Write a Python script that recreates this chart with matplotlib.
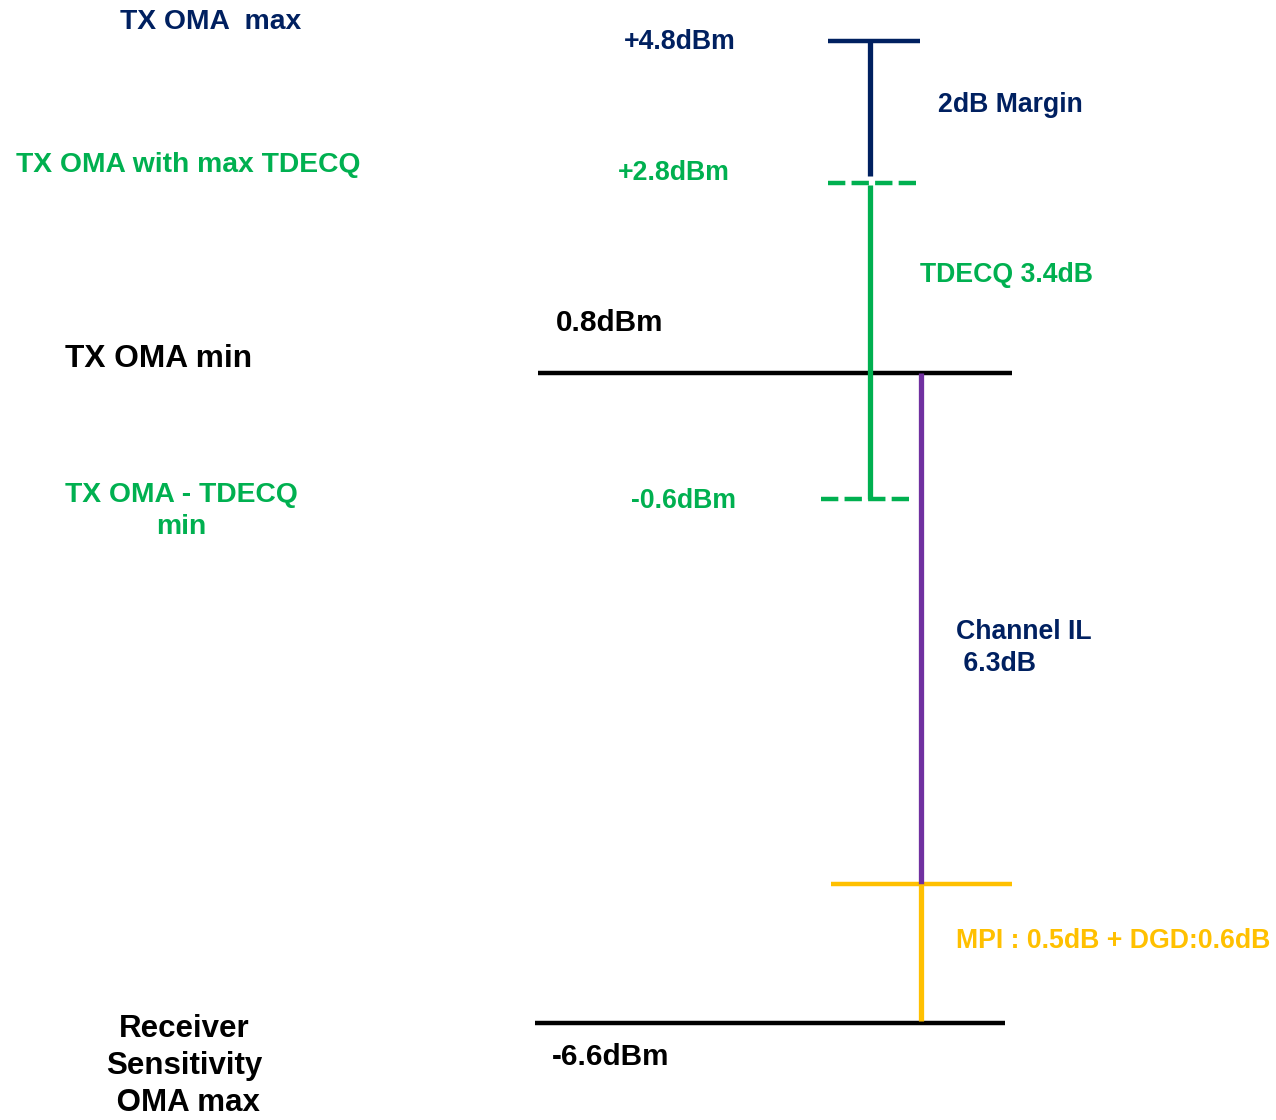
import matplotlib
matplotlib.use('Agg')
import matplotlib.pyplot as plt

plt.rcParams['font.family'] = ['Liberation Sans', 'DejaVu Sans']
plt.rcParams['font.weight'] = 'bold'

NAVY = '#002060'
GREEN = '#00B050'
PURPLE = '#7030A0'
GOLD = '#FFC000'

# power levels (dBm) and where they sit on the (not to scale) diagram
level_names = ['TX OMA  max', 'TX OMA with max TDECQ', 'TX OMA min',
               'TX OMA - TDECQ\nmin', 'Receiver\nSensitivity\n OMA max']
level_values = ['+4.8dBm', '+2.8dBm', '0.8dBm', '-0.6dBm', '-6.6dBm']
level_colors = [NAVY, GREEN, 'black', GREEN, 'black']
level_rows = [41, 183, 373, 499, 1023]
mpi_row = 884

# budget segments
seg_labels = ['2dB Margin', 'TDECQ 3.4dB', 'Channel IL\n 6.3dB',
              'MPI : 0.5dB + DGD:0.6dB']
seg_colors = [NAVY, GREEN, NAVY, GOLD]

fig = plt.figure(figsize=(12.76, 11.2), dpi=100)
ax = fig.add_axes([0, 0, 1, 1])
ax.set_xlim(0, 1276)
ax.set_ylim(1120, 0)
ax.axis('off')

r_max, r_tdecq, r_min, r_low, r_sens = level_rows

# horizontal level bars
ax.plot([828, 920], [r_max, r_max], color=NAVY, lw=3.2, solid_capstyle='butt')
ax.plot([828, 918], [r_tdecq, r_tdecq], color=GREEN, lw=3.2,
        linestyle=(0, (3.9, 1.4)), dash_capstyle='butt')
ax.plot([538, 1012], [r_min, r_min], color='black', lw=3.2, solid_capstyle='butt')
ax.plot([821, 913], [r_low, r_low], color=GREEN, lw=3.2,
        linestyle=(0, (3.9, 1.4)), dash_capstyle='butt')
ax.plot([831, 1012], [mpi_row, mpi_row], color=GOLD, lw=3.2, solid_capstyle='butt')
ax.plot([535, 1005], [r_sens, r_sens], color='black', lw=3.2, solid_capstyle='butt')

# vertical budget segments
ax.plot([870, 870], [r_max, r_tdecq - 7], color=NAVY, lw=3.8, solid_capstyle='butt')
ax.plot([870, 870], [r_tdecq + 2, r_low], color=GREEN, lw=3.8, solid_capstyle='butt')
ax.plot([921, 921], [r_min, mpi_row], color=PURPLE, lw=3.8, solid_capstyle='butt')
ax.plot([921, 921], [mpi_row, r_sens - 2], color=GOLD, lw=3.8, solid_capstyle='butt')

# left side names
name_pos = [(211, 22, 20.3, 1.2), (188, 165, 20.3, 1.2), (159, 359, 22.8, 1.2),
            (181, 511, 20.3, 1.32), (184, 1066, 22.5, 1.31)]
for name, col, (x, y, fs, ls) in zip(level_names, level_colors, name_pos):
    ax.text(x, y, name, color=col, fontsize=fs, ha='center', va='center',
            linespacing=ls)

# dBm values
val_pos = [(680, 42, 'center', 19.2), (674, 173, 'center', 19.2),
           (556, 323, 'left', 21.4), (684, 501, 'center', 19.2),
           (552, 1057, 'left', 21.4)]
for val, col, (x, y, ha, fs) in zip(level_values, level_colors, val_pos):
    ax.text(x, y, val, color=col, fontsize=fs, ha=ha, va='center')

# segment labels
seg_pos = [(938, 105), (920, 275), (956, 648), (956, 941)]
for lab, col, (x, y) in zip(seg_labels, seg_colors, seg_pos):
    ax.text(x, y, lab, color=col, fontsize=19.2, ha='left', va='center',
            linespacing=1.34)

fig.savefig('out.png', dpi=100)
